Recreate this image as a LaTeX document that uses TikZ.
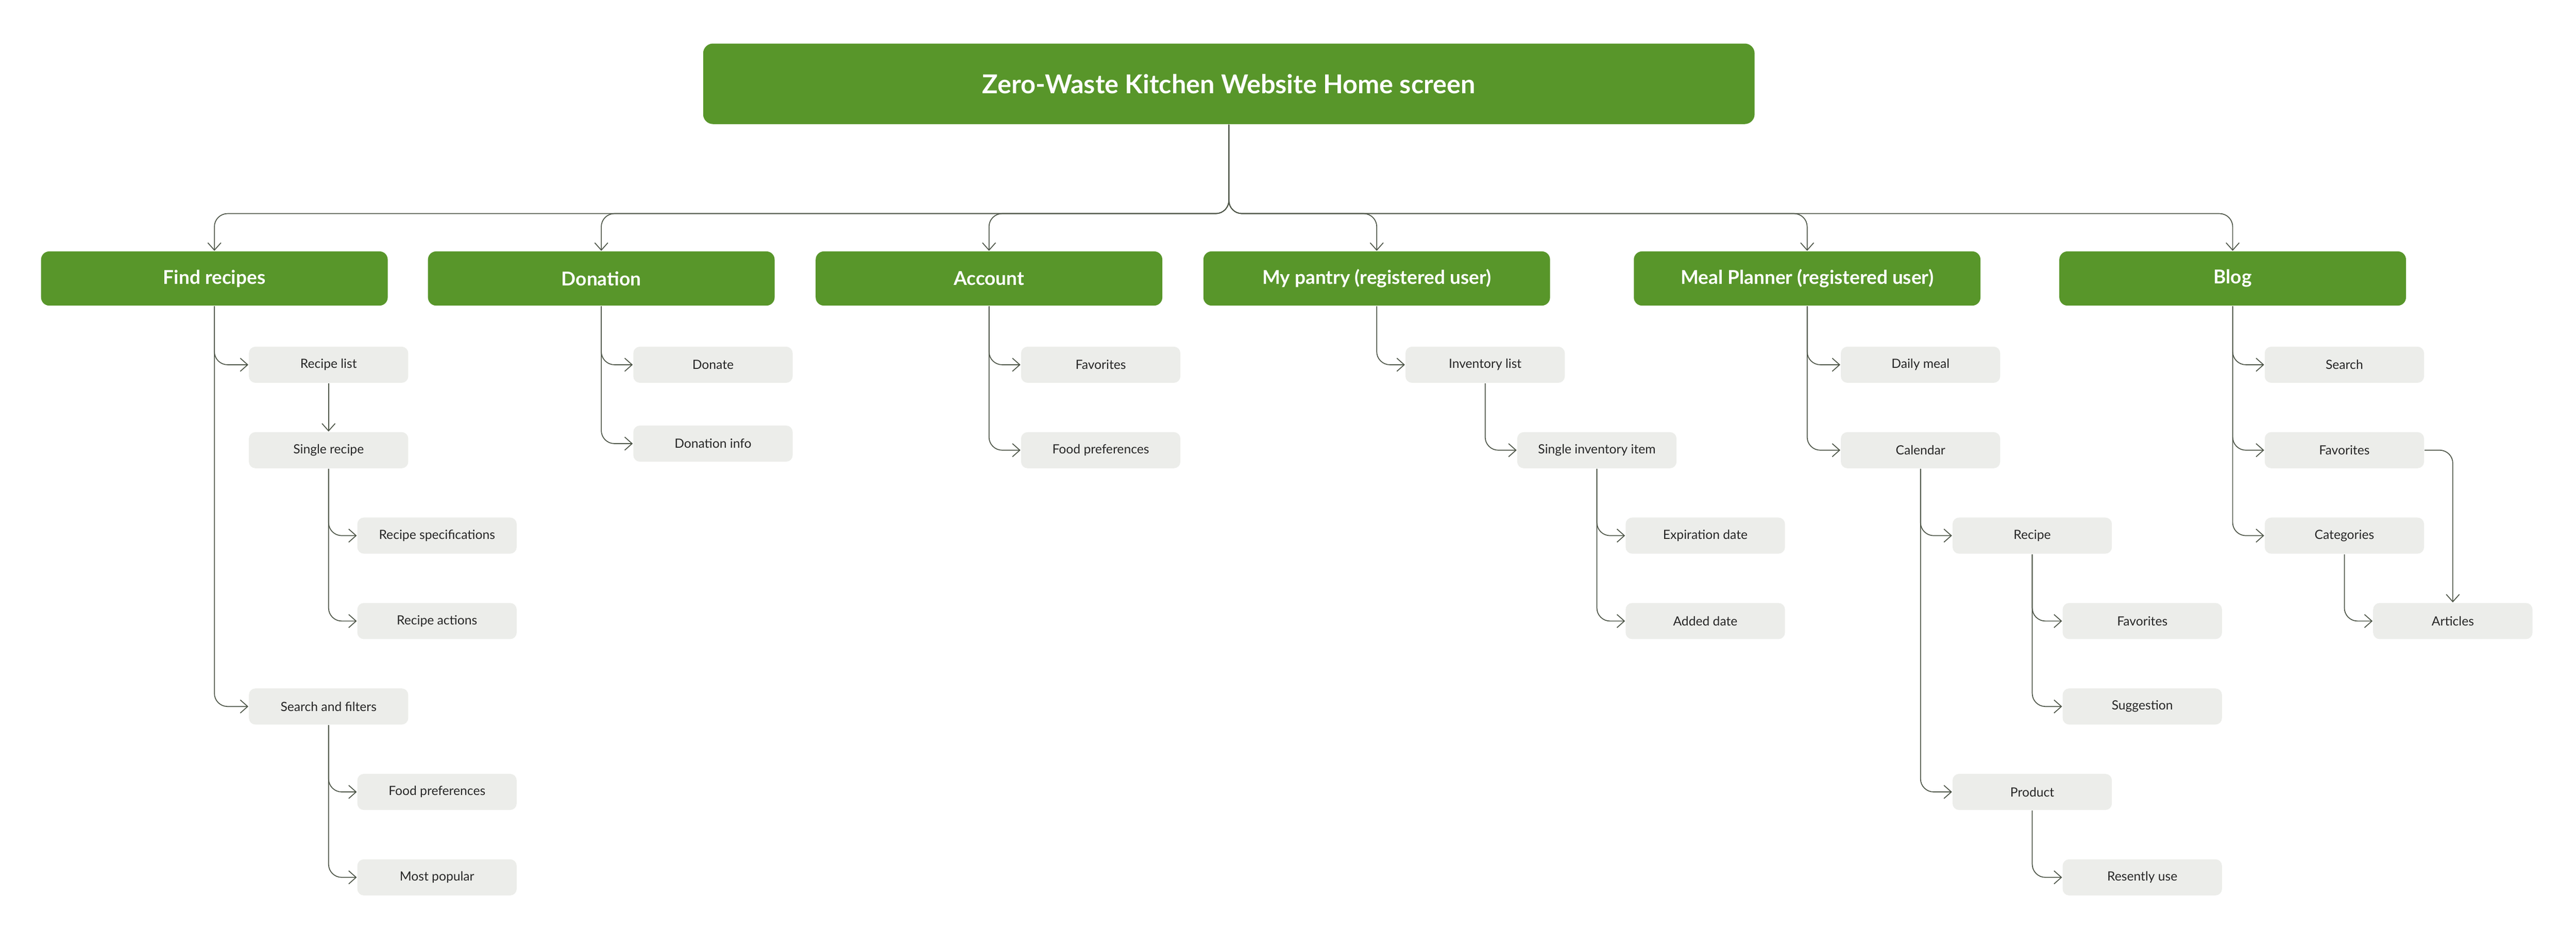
\documentclass[tikz,border=0pt]{standalone}
\usepackage{fontspec}
\setmainfont{Lato}
\usetikzlibrary{arrows.meta}
\definecolor{leaf}{HTML}{58962A}
\definecolor{chip}{HTML}{ECEDEA}
\definecolor{wire}{HTML}{4A5244}

\begin{document}
\begin{tikzpicture}[x=0.2mm, y=-0.2mm,
  root/.style={rectangle, rounded corners=1.2mm, fill=leaf, text=white, font=\bfseries\fontsize{9}{10}\selectfont, minimum width=128mm, minimum height=9.8mm},
  section/.style={rectangle, rounded corners=1mm, fill=leaf, text=white, font=\bfseries\fontsize{6.6}{8}\selectfont, minimum width=42.2mm, minimum height=6.6mm},
  page/.style={rectangle, rounded corners=0.8mm, fill=chip, text=black!85, font=\fontsize{4.4}{5}\selectfont, minimum width=19.4mm, minimum height=4.4mm, inner sep=0pt},
  conn/.style={draw=wire, line width=0.3pt, rounded corners=1.6mm, -{Straight Barb[length=0.9mm, width=1.6mm]}}]
  \useasboundingbox (0,0) rectangle (1568,566);
  \node[root] (home) at (748,51) {Zero-Waste Kitchen Website Home screen};
  \coordinate (hub) at (748,130);

  % sections
  \node[section] (find) at (130.5,169.5) {Find recipes};
  \node[section] (donation) at (366,169.5) {Donation};
  \node[section] (account) at (602,169.5) {Account};
  \node[section] (pantry) at (838,169.5) {My pantry (registered user)};
  \node[section] (planner) at (1100,169.5) {Meal Planner (registered user)};
  \node[section] (blog) at (1359,169.5) {Blog};
  \foreach \s in {find, donation, account, pantry, planner, blog}
    \draw[conn] (home.south) -- (hub) -| (\s.north);

  % find recipes
  \node[page] (rlist) at (200,222) {Recipe list};
  \node[page] (rsingle) at (200,274) {Single recipe};
  \node[page] (rspec) at (266,326) {Recipe specifications};
  \node[page] (ract) at (266,378) {Recipe actions};
  \node[page] (search) at (200,430) {Search and filters};
  \node[page] (fpref) at (266,482) {Food preferences};
  \node[page] (popular) at (266,534) {Most popular};
  \draw[conn] (find.south) |- (rlist.west);
  \draw[conn] (find.south) |- (search.west);
  \draw[conn] (rlist) -- (rsingle);
  \draw[conn] (rsingle.south) |- (rspec.west);
  \draw[conn] (rsingle.south) |- (ract.west);
  \draw[conn] (search.south) |- (fpref.west);
  \draw[conn] (search.south) |- (popular.west);

  % donation
  \node[page] (donate) at (434,222) {Donate};
  \node[page] (dinfo) at (434,270) {Donation info};
  \draw[conn] (donation.south) |- (donate.west);
  \draw[conn] (donation.south) |- (dinfo.west);

  % account
  \node[page] (afav) at (670,222) {Favorites};
  \node[page] (apref) at (670,274) {Food preferences};
  \draw[conn] (account.south) |- (afav.west);
  \draw[conn] (account.south) |- (apref.west);

  % pantry
  \node[page] (inv) at (904,222) {Inventory list};
  \node[page] (item) at (972,274) {Single inventory item};
  \node[page] (expire) at (1038,326) {Expiration date};
  \node[page] (added) at (1038,378) {Added date};
  \draw[conn] (pantry.south) |- (inv.west);
  \draw[conn] (inv.south) |- (item.west);
  \draw[conn] (item.south) |- (expire.west);
  \draw[conn] (item.south) |- (added.west);

  % meal planner
  \node[page] (daily) at (1169,222) {Daily meal};
  \node[page] (cal) at (1169,274) {Calendar};
  \node[page] (mrec) at (1237,326) {Recipe};
  \node[page] (mfav) at (1304,378) {Favorites};
  \node[page] (sugg) at (1304,430) {Suggestion};
  \node[page] (prod) at (1237,482) {Product};
  \node[page] (recent) at (1304,534) {Resently use};
  \draw[conn] (planner.south) |- (daily.west);
  \draw[conn] (planner.south) |- (cal.west);
  \draw[conn] (cal.south) |- (mrec.west);
  \draw[conn] (cal.south) |- (prod.west);
  \draw[conn] (mrec.south) |- (mfav.west);
  \draw[conn] (mrec.south) |- (sugg.west);
  \draw[conn] (prod.south) |- (recent.west);

  % blog
  \node[page] (bsearch) at (1427,222) {Search};
  \node[page] (bfav) at (1427,274) {Favorites};
  \node[page] (cats) at (1427,326) {Categories};
  \node[page] (art) at (1493,378) {Articles};
  \draw[conn] (blog.south) |- (bsearch.west);
  \draw[conn] (blog.south) |- (bfav.west);
  \draw[conn] (blog.south) |- (cats.west);
  \draw[conn] (bfav.east) -| (art.north);
  \draw[conn] (cats.south) |- (art.west);
\end{tikzpicture}
\end{document}
